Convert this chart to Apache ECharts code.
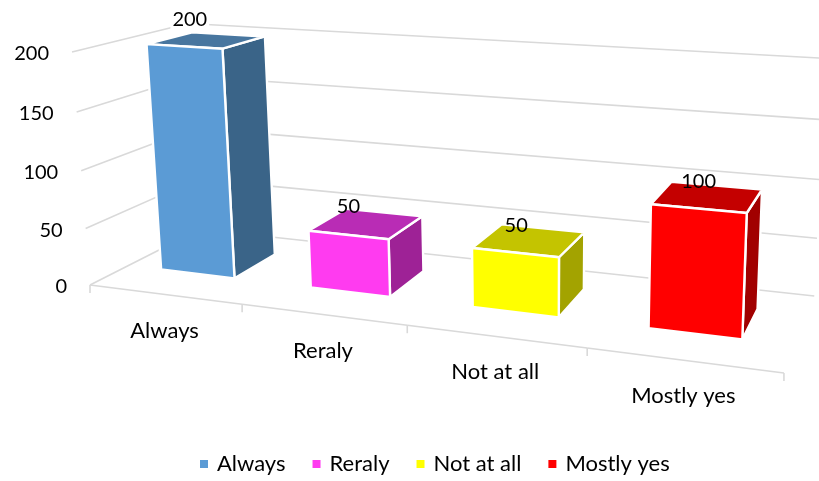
<!DOCTYPE html>
<html>
<head>
<meta charset="utf-8">
<style>
  html, body { margin: 0; padding: 0; background: #fff; }
  #chart { width: 819px; height: 481px; }
</style>
</head>
<body>
<div id="chart"></div>
<script src="https://cdn.jsdelivr.net/npm/echarts@6/dist/echarts.min.js"></script>
<script>
const categories = ['Always', 'Reraly', 'Not at all', 'Mostly yes'];
const values = [200, 50, 50, 100];
const yTicks = [0, 50, 100, 150, 200];
const frontColors = ['#5b9bd5', '#ff3bf0', '#ffff00', '#ff0000'];
const topColors = ['#48769f', '#b92cb5', '#c4c400', '#c40000'];
const sideColors = ['#3a6488', '#9e2296', '#a3a300', '#a10000'];

const FONT = 'Lato, "Noto Sans", sans-serif';
const TEXT_SIZE = 22;
const NUMBER_SIZE = 20;
const GRID_COLOR = '#d9d9d9';
const GRID_WIDTH = 1.6;

// Depth range of the bars on the floor, 0 = front edge, 1 = back wall
const BAR_FRONT = 0.32;
const BAR_BACK = 0.73;
const BAR_WIDTH = 0.5;
const BAR_SHIFT = -0.02;

// Value labels sit up and left of the top face, a bit unevenly per bar
const LABEL_DX = [-17, -18, -13, -9];
const LABEL_DY = [-21, -17, -15, -15];

// Perspective camera: origin plus scaled vanishing points of the three axes
const ORIGIN = [90, 285];
const VP_U = { x: -3617, y: -185, s: -0.03942 };
const VP_D = { x: 1000, y: -176, s: 0.1375 };
const VP_V = { x: 540, y: 6110, s: -0.03846 };

// u: 0..categories.length, d: 0..1, v: 0..1
function project(u, d, v) {
  const w = 1 + VP_U.s * u + VP_D.s * d + VP_V.s * v;
  const x = ORIGIN[0] + VP_U.s * VP_U.x * u + VP_D.s * VP_D.x * d + VP_V.s * VP_V.x * v;
  const y = ORIGIN[1] + VP_U.s * VP_U.y * u + VP_D.s * VP_D.y * d + VP_V.s * VP_V.y * v;
  return [x / w, y / w];
}

// The hidden cartesian axes do the scaling, this maps their pixels to u and v
function toWorld(params, api, cat, val) {
  const cs = params.coordSys;
  const pt = api.coord([cat, val]);
  return {
    u: (pt[0] - cs.x) / cs.width * categories.length,
    v: (cs.y + cs.height - pt[1]) / cs.height
  };
}

function line(a, b) {
  return {
    type: 'line',
    shape: { x1: a[0], y1: a[1], x2: b[0], y2: b[1] },
    style: { stroke: GRID_COLOR, lineWidth: GRID_WIDTH, fill: null }
  };
}

function text(str, x, y, align, size) {
  return {
    type: 'text',
    style: {
      text: str, x: x, y: y, align: align, verticalAlign: 'middle',
      fill: '#000', fontSize: size, fontFamily: FONT
    }
  };
}

function face(points, color) {
  return {
    type: 'polygon',
    shape: { points: points },
    style: { fill: color, stroke: '#fff', lineWidth: 2.4, lineJoin: 'round' }
  };
}

function renderWall(params, api) {
  const tick = api.value(0);
  const v = toWorld(params, api, 0, tick).v;
  const start = project(0, 0, v);
  const corner = project(0, 1, v);
  const end = project(categories.length, 1, v);
  return {
    type: 'group',
    children: [
      line(start, corner),
      line(corner, end),
      text(String(tick), start[0] - 23, start[1] + 2, 'right', NUMBER_SIZE)
    ]
  };
}

function renderFloor(params, api) {
  const i = api.value(0);
  const u = toWorld(params, api, i, 0).u;
  const left = project(u - 0.5, 0, 0);
  const right = project(u + 0.5, 0, 0);
  const mid = project(u, 0, 0);
  const children = [
    line(left, right),
    line(left, [left[0], left[1] + 8]),
    text(categories[i], mid[0], mid[1] + 36, 'center', TEXT_SIZE)
  ];
  if (i === categories.length - 1) {
    children.push(line(right, [right[0], right[1] + 8]));
  }
  return { type: 'group', children: children };
}

function renderBar(params, api) {
  const i = api.value(0);
  const val = api.value(1);
  const world = toWorld(params, api, i, val);
  const u0 = world.u + BAR_SHIFT - BAR_WIDTH / 2;
  const u1 = world.u + BAR_SHIFT + BAR_WIDTH / 2;
  const v = world.v;
  const topCentre = project(world.u + BAR_SHIFT, (BAR_FRONT + BAR_BACK) / 2, v);
  const label = text(String(val), topCentre[0] + LABEL_DX[i], topCentre[1] + LABEL_DY[i], 'center', NUMBER_SIZE);
  // the tallest label hides the top gridline behind it
  if (i === 0) {
    label.style.backgroundColor = '#fff';
    label.style.padding = [0, 2];
  }
  return {
    type: 'group',
    children: [
      face([project(u1, BAR_FRONT, 0), project(u1, BAR_BACK, 0), project(u1, BAR_BACK, v), project(u1, BAR_FRONT, v)], sideColors[i]),
      face([project(u0, BAR_FRONT, v), project(u1, BAR_FRONT, v), project(u1, BAR_BACK, v), project(u0, BAR_BACK, v)], topColors[i]),
      face([project(u0, BAR_FRONT, 0), project(u1, BAR_FRONT, 0), project(u1, BAR_FRONT, v), project(u0, BAR_FRONT, v)], frontColors[i]),
      label
    ]
  };
}

const series = [
  { type: 'custom', name: 'wall', z: 1, silent: true, renderItem: renderWall, encode: { y: 0 },
    data: yTicks.map(function (t) { return [t]; }) },
  { type: 'custom', name: 'floor', z: 1, silent: true, renderItem: renderFloor, encode: { x: 0 },
    data: categories.map(function (c, i) { return [i]; }) }
];
categories.forEach(function (name, i) {
  series.push({
    type: 'custom',
    name: name,
    z: 2,
    silent: true,
    renderItem: renderBar,
    itemStyle: { color: frontColors[i] },
    encode: { x: 0, y: 1 },
    data: [[i, values[i]]]
  });
});

var chart = echarts.init(document.getElementById('chart'), null, { renderer: 'canvas' });
chart.setOption({
  animation: false,
  backgroundColor: '#fff',
  grid: { left: 100, right: 100, top: 40, bottom: 100 },
  xAxis: { type: 'category', data: categories, show: false },
  yAxis: { type: 'value', min: 0, max: 200, show: false },
  legend: {
    data: categories.map(function (c) { return { name: c, icon: 'rect' }; }),
    left: 195,
    top: 448,
    itemWidth: 8,
    itemHeight: 8,
    itemGap: 27,
    selectedMode: false,
    textStyle: { fontFamily: FONT, fontSize: TEXT_SIZE, color: '#000', padding: [0, 0, 0, 4] }
  },
  series: series
});
</script>
</body>
</html>
